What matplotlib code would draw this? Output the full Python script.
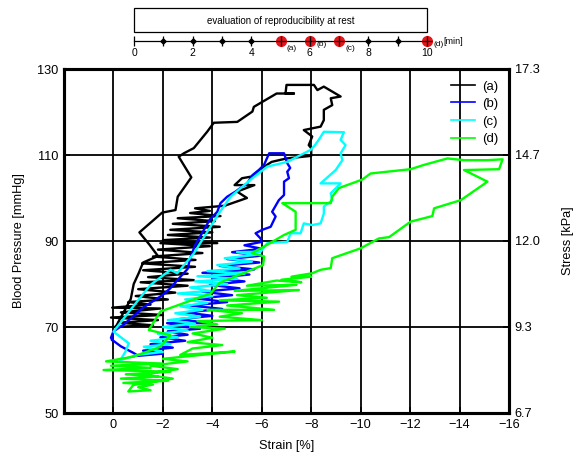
import matplotlib
matplotlib.use('Agg')
import matplotlib.pyplot as plt
from matplotlib.patches import Rectangle

plt.rcParams['font.family'] = ['Liberation Sans', 'DejaVu Sans']

# ---------------- data ----------------
strain_a = [0.0, -1.6, -0.2, -1.8, 0.1, -2.0, -0.3, -1.9, 0.05, -1.5,
            -0.6, -2.2, -0.9, -2.5, -1.0, -3.0, -1.1, -3.25, -1.4, -3.0,
            -1.2, -3.3, -1.16, -3.32, -1.6, -3.6, -1.8, -3.9, -1.9, -4.2,
            -2.0, -3.9, -2.2, -4.0, -2.3, -4.3, -2.4, -4.1, -2.6, -4.33,
            -3.1, -3.9, -3.3, -4.5,
            -5.4, -5.0, -5.7, -4.9, -5.2, -5.6, -5.9, -6.1, -6.4, -7.0,
            -8.0, -8.0, -7.9, -8.04, -7.7, -8.38, -8.51, -8.51, -8.85, -8.79,
            -9.19, -8.51, -8.25, -8.11, -7.23, -7.0, -6.96, -7.3, -6.6, -5.68,
            -5.62, -5.01, -4.06, -3.79, -3.25, -2.85, -2.64, -3.15, -2.6, -2.51,
            -1.97, -1.05, -1.45, -1.8, -1.2, -1.02, -0.82, -0.7, -0.1]
pressure_a = [70.0, 70.4, 71.0, 71.6, 72.2, 72.8, 73.4, 74.3, 74.5, 75.2,
              75.8, 76.4, 77.2, 78.0, 78.8, 79.6, 80.4, 80.9, 81.6, 82.4,
              83.2, 84.0, 84.8, 85.6, 86.4, 87.2, 88.0, 88.8, 89.5, 89.5,
              90.2, 90.8, 91.4, 92.0, 92.6, 93.3, 94.0, 94.6, 95.3, 95.8,
              96.5, 97.0, 97.6, 98.2,
              100.0, 101.5, 103.0, 103.0, 104.6, 105.0, 106.5, 107.3, 108.4, 109.2,
              109.8, 111.6, 112.3, 114.3, 115.8, 116.6, 118.1, 120.5, 121.6, 123.2,
              123.6, 125.9, 125.1, 126.3, 126.3, 126.3, 124.3, 124.3, 124.3, 121.2,
              120.1, 117.7, 117.5, 115.4, 111.6, 110.4, 109.6, 104.8, 100.3, 97.2,
              96.6, 92.0, 89.2, 86.5, 85.0, 82.5, 80.0, 76.5, 70.1]

strain_b = [0.05, -0.3, -0.8, -1.0, -2.0, -1.2, -2.4, -1.5, -2.9, -1.9,
            -3.0, -2.2, -3.5, -2.17, -3.93, -2.6, -4.0, -2.9, -4.4, -3.1,
            -4.6, -3.4, -4.8, -3.6, -5.1, -3.9, -5.3, -4.0, -5.5, -3.6,
            -5.7, -4.3, -5.9, -4.6, -6.0, -4.8, -6.0, -5.3, -6.0, -5.95,
            -5.75, -6.02, -6.36, -6.56, -6.42, -6.69, -6.9, -6.9, -7.1, -7.03,
            -7.15, -7.03, -6.9, -6.3, -6.09, -5.88, -5.62, -5.41, -5.2, -4.94,
            -4.6, -4.33, -4.2, -3.9, -3.6, -3.3, -3.1, -3.0, -2.6, -2.3,
            -2.0, -1.6, -1.2, -0.8, -0.4, 0.0, 0.1, 0.05]
pressure_b = [67.0, 65.5, 64.0, 63.3, 63.8, 64.5, 65.2, 66.0, 66.8, 67.6,
              68.2, 69.0, 69.6, 70.9, 70.9, 71.8, 72.6, 73.4, 74.2, 75.0,
              75.8, 76.6, 77.4, 78.2, 79.0, 79.8, 80.6, 81.4, 82.2, 82.6,
              83.4, 84.2, 85.0, 85.8, 86.6, 87.4, 88.2, 89.0, 89.8, 90.6,
              91.8, 92.6, 93.3, 95.7, 96.8, 99.5, 100.7, 103.8, 104.6, 106.1,
              107.0, 108.1, 110.4, 110.4, 107.7, 106.5, 105.3, 103.4, 102.6, 101.5,
              100.3, 98.8, 96.8, 95.0, 92.0, 89.0, 86.0, 83.5, 81.0, 79.0,
              77.5, 76.0, 74.5, 72.5, 70.5, 69.0, 67.5, 67.0]

strain_c = [-0.28, -0.96, -2.0, -1.23, -2.3, -1.5, -2.6, -1.8, -3.0, -2.0,
            -3.3, -2.2, -3.5, -2.5, -3.6, -2.7, -3.8, -2.9, -4.0, -2.6,
            -3.9, -3.1, -4.6, -3.3, -5.0, -3.4, -5.3, -3.8, -5.1, -4.2,
            -5.6, -4.5, -5.8, -5.0, -5.95, -6.22, -7.03, -7.17, -7.57, -7.7,
            -8.04, -8.38, -8.51, -8.51, -8.85, -8.79, -9.19, -8.38, -8.99, -9.26,
            -9.19, -9.39, -9.19, -9.32, -8.51, -8.3, -8.15, -7.98, -7.44, -7.03,
            -6.22, -5.62, -5.21, -4.74, -4.26, -3.25, -2.58, -2.31, -1.5, -0.69,
            0.0, -0.28, -0.62, -0.49, -0.28]
pressure_c = [62.3, 63.5, 64.2, 65.4, 66.0, 66.8, 67.6, 68.4, 69.2, 70.0,
              70.8, 71.6, 72.4, 73.2, 74.0, 74.8, 75.6, 76.4, 77.2, 77.8,
              78.4, 79.2, 80.0, 80.6, 81.2, 81.8, 82.4, 83.0, 83.6, 84.4,
              85.2, 86.0, 86.8, 87.4, 87.5, 89.5, 89.8, 91.8, 91.8, 94.1,
              93.7, 94.1, 96.4, 98.0, 99.5, 101.1, 103.4, 103.4, 106.5, 108.8,
              110.4, 112.3, 113.5, 115.3, 115.4, 113.5, 112.3, 111.2, 109.6, 108.4,
              107.3, 104.6, 102.6, 100.3, 96.4, 87.1, 82.5, 83.3, 79.8, 74.0,
              68.9, 67.7, 66.2, 64.3, 62.3]

strain_d = [-0.8, 0.3, -2.0, 0.1, -1.5, 0.4, -2.3, -0.5, -1.8, -0.3,
            -2.2, -0.4, -1.6, -1.0, -1.5, -0.6, -0.8, -2.4, -1.2, -2.6,
            -1.5, -3.0, -2.0, -4.9, -2.7, -3.2, -4.4, -3.0, -4.0, -3.2,
            -4.5, -3.1, -4.2, -3.4, -6.0, -4.3, -5.2, -3.8, -6.5, -4.6,
            -6.7, -4.3, -6.2, -5.0, -7.5, -4.9, -7.4, -5.4, -6.6, -7.6,
            -6.8, -8.0, -7.2, -8.04, -8.38, -8.79, -8.85, -10.0, -10.74, -11.15,
            -12.02, -12.9, -12.97, -14.05, -15.13, -14.18, -15.6, -15.74, -15.13, -14.18,
            -13.51, -12.56, -12.02, -10.4, -10.07, -9.12, -8.85, -8.79, -6.83, -7.37,
            -7.37, -6.9, -6.09, -5.6, -6.1, -6.05, -4.3, -3.93, -1.9, -1.43,
            -2.3, -1.9, -0.8]
pressure_d = [63.1, 62.0, 61.5, 61.0, 60.5, 60.0, 59.6, 59.0, 58.5, 58.0,
              57.5, 57.0, 56.6, 56.0, 55.3, 55.0, 56.5, 58.0, 59.0, 60.2,
              61.0, 62.0, 62.6, 64.3, 63.5, 65.0, 65.8, 66.5, 67.5, 68.5,
              69.6, 70.0, 70.6, 71.4, 71.6, 72.4, 73.2, 74.0, 74.0, 75.0,
              75.9, 76.2, 76.8, 77.4, 78.6, 78.4, 79.8, 79.6, 80.8, 80.4,
              81.0, 81.7, 81.7, 82.5, 83.3, 83.7, 86.0, 88.3, 90.6, 90.9,
              94.5, 95.8, 97.6, 99.5, 103.8, 106.5, 106.7, 109.0, 108.8, 108.8,
              109.2, 107.7, 106.7, 105.7, 104.3, 102.3, 100.3, 98.8, 98.8, 96.8,
              92.6, 91.4, 88.7, 87.2, 86.4, 84.4, 80.3, 77.8, 73.6, 69.3,
              68.1, 65.4, 63.1]

series_labels = ['(a)', '(b)', '(c)', '(d)']
series_colors = ['#000000', '#0000ff', '#00ffff', '#00ff00']

strain_ticks = [0, -2, -4, -6, -8, -10, -12, -14, -16]
pressure_ticks = [50, 70, 90, 110, 130]
mmhg_to_kpa = 0.133322

timeline_minutes = [0, 1, 2, 3, 4, 5, 6, 7, 8, 9, 10]
timeline_labels = [0, 2, 4, 6, 8, 10]
measure_minutes = [5, 6, 7, 10]
measure_labels = ['(a)', '(b)', '(c)', '(d)']

# ---------------- figure ----------------
W, H = 577, 459
fig = plt.figure(figsize=(W / 100, H / 100), dpi=100)


def rect(x0, y0, x1, y1):
    return [x0 / W, 1 - y1 / H, (x1 - x0) / W, (y1 - y0) / H]


FS = 9.2
ax = fig.add_axes(rect(64, 69, 509, 413))
ax.set_xlim(2, -16)
ax.set_ylim(50, 130)
ax.set_xticks(strain_ticks)
ax.set_yticks(pressure_ticks)
ax.grid(True, color='black', linewidth=1.3)
ax.set_axisbelow(True)
for s in ax.spines.values():
    s.set_linewidth(2.2)
ax.tick_params(direction='in', length=4, width=1.2, labelsize=FS, pad=4)

data = [(strain_a, pressure_a), (strain_b, pressure_b),
        (strain_c, pressure_c), (strain_d, pressure_d)]
for (sx, py), lab, col in zip(data, series_labels, series_colors):
    ax.plot(sx, py, color=col, linewidth=1.7, label=lab)

ax.set_xlabel('Strain [%]', fontsize=FS, labelpad=7)
ax.set_ylabel('Blood Pressure [mmHg]', fontsize=FS, labelpad=9)

leg = ax.legend(loc='upper right', bbox_to_anchor=(0.995, 0.99), frameon=False,
                fontsize=9.5, handlelength=1.8, handletextpad=0.6,
                labelspacing=0.4, borderaxespad=0.2)
for h in leg.get_lines():
    h.set_linewidth(1.2)

ax2 = ax.twinx()
ax2.set_ylim(50, 130)
ax2.set_yticks(pressure_ticks)
ax2.set_yticklabels([f'{p * mmhg_to_kpa:.1f}' for p in pressure_ticks])
ax2.tick_params(direction='in', length=4, width=1.2, labelsize=FS, pad=4)
for s in ax2.spines.values():
    s.set_linewidth(2.2)
ax2.set_ylabel('Stress [kPa]', fontsize=FS, labelpad=16)

# ---------------- timeline inset ----------------
tax = fig.add_axes(rect(134, 4, 427, 60))
tax.set_xlim(0, 10)
tax.set_ylim(60, 4)
tax.axis('off')
tax.add_patch(Rectangle((0, 8.3), 10, 24, fill=False, edgecolor='black',
                        linewidth=0.9, clip_on=False))
tax.text(5, 20.5, 'evaluation of reproducibility at rest', ha='center',
         va='center', fontsize=7)
tax.plot([0, 10], [41, 41], color='black', linewidth=0.9, clip_on=False)
tax.plot(timeline_minutes, [41] * len(timeline_minutes), linestyle='none',
         marker='|', markersize=7, markeredgewidth=0.9, color='black',
         clip_on=False)
black_minutes = [m for m in timeline_minutes if m not in measure_minutes and m != 0]
tax.plot(black_minutes, [41] * len(black_minutes), linestyle='none',
         marker='D', markersize=2.6, color='black', clip_on=False)
tax.plot(measure_minutes, [41] * len(measure_minutes), linestyle='none',
         marker='o', markersize=7, markerfacecolor='#e8141b',
         markeredgecolor='#e8141b', clip_on=False)
tax.plot(measure_minutes, [41] * len(measure_minutes), linestyle='none',
         marker='+', markersize=7, markeredgewidth=0.9, color='black',
         clip_on=False)
for t in timeline_labels:
    tax.text(t, 53, str(t), ha='center', va='center', fontsize=7.5)
label_y = [48.5, 44.5, 48.5, 45]
for t, lab, ly in zip(measure_minutes, measure_labels, label_y):
    tax.text(t + 0.22, ly, lab, ha='left', va='center', fontsize=6)
tax.text(10.55, 42, '[min]', ha='left', va='center', fontsize=6.5)

fig.savefig('out.png', dpi=100)
